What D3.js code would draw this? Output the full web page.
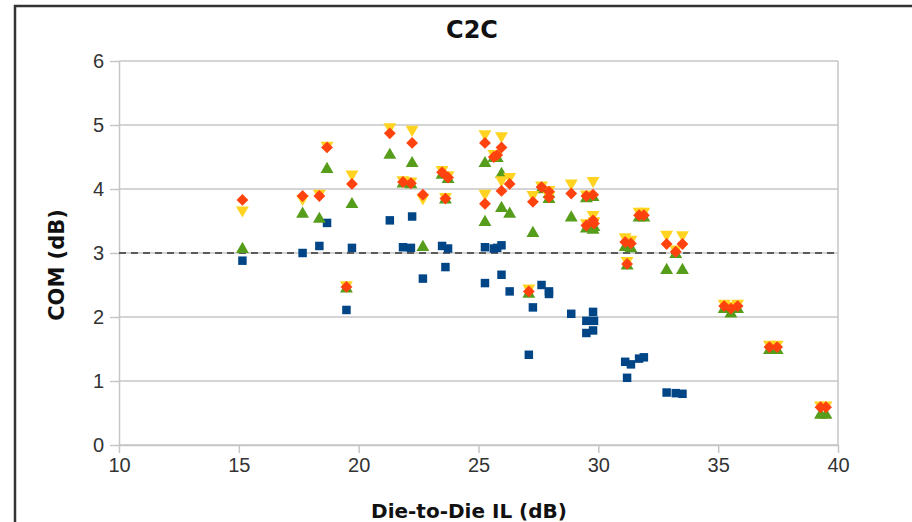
<!DOCTYPE html>
<html>
<head>
<meta charset="utf-8">
<script src="https://cdn.jsdelivr.net/npm/d3@7"></script>
<style>
  body { margin: 0; background: #fff; }
  svg { display: block; }
</style>
</head>
<body>
<div id="chart"></div>
<script>
'use strict';
// die-to-die insertion loss per channel (dB)
var il = [15.15, 17.66, 18.36, 18.68, 19.49, 19.72, 21.30, 22.23, 21.85, 22.18,
    22.68, 23.48, 23.62, 23.73, 25.27, 25.27, 25.64, 25.78, 25.96, 25.96,
    26.30, 27.10, 27.27, 27.63, 27.94, 27.94, 28.87, 29.50, 29.78, 29.50,
    29.78, 29.82, 31.12, 31.36, 31.20, 31.70, 31.90, 32.85, 33.23, 33.51,
    35.25, 35.53, 35.81, 37.14, 37.46, 39.27, 39.50];
// COM values, one array per case (null = not plotted)
var comBlue = [2.88, 3.00, 3.11, 3.47, 2.11, 3.08, 3.51, 3.57, 3.09, 3.08,
    2.60, 3.11, 2.78, 3.07, 3.09, 2.53, 3.07, 3.08, 3.12, 2.66,
    2.40, 1.41, 2.15, 2.50, 2.40, 2.36, 2.05, 1.94, 2.08, 1.75,
    1.79, 1.94, 1.30, 1.26, 1.05, 1.35, 1.37, 0.82, 0.81, 0.80,
    null, null, null, null, null, null, null];
var comOrange = [3.83, 3.89, 3.89, 4.65, 2.47, 4.08, 4.87, 4.72, 4.11, 4.09,
    3.91, 4.26, 3.85, 4.18, 4.72, 3.77, 4.50, 4.53, 4.65, 3.97,
    4.08, 2.40, 3.80, 4.03, 3.96, 3.87, 3.93, 3.89, 3.91, 3.43,
    3.51, 3.46, 3.17, 3.15, 2.83, 3.59, 3.59, 3.14, 3.02, 3.14,
    2.17, 2.13, 2.17, 1.53, 1.53, 0.59, 0.59];
var comYellow = [3.67, 3.85, 3.93, 4.68, 2.50, 4.23, 4.97, 4.93, 4.14, 4.12,
    3.86, 4.30, 3.88, 4.22, 4.86, 3.93, 4.55, 4.55, 4.83, 4.14,
    4.19, 2.45, 3.91, 4.06, 3.99, 3.90, 4.09, 3.92, 4.13, 3.47,
    3.60, 3.50, 3.25, 3.21, 2.88, 3.65, 3.65, 3.29, 3.06, 3.28,
    2.21, 2.18, 2.21, 1.57, 1.57, 0.62, 0.62];
var comGreen = [3.06, 3.61, 3.53, 4.31, 2.44, 3.76, 4.53, 4.40, 4.08, 4.07,
    3.09, 4.22, 3.83, 4.15, 4.40, 3.48, 4.48, 4.48, 4.23, 3.70,
    3.61, 2.36, 3.31, 3.99, 3.92, 3.84, 3.55, 3.85, 3.87, 3.38,
    3.36, 3.40, 3.09, 3.07, 2.80, 3.55, 3.55, 2.73, 2.98, 2.73,
    2.12, 2.05, 2.12, 1.48, 1.48, 0.47, 0.47];
var xTicks = [10, 15, 20, 25, 30, 35, 40];
var yTicks = [0, 1, 2, 3, 4, 5, 6];
var comLimit = 3;

var series = [
    {name: "blue", values: comBlue, color: "#004586", symbol: d3.symbolSquare, size: 72, rotate: 0},
    {name: "green", values: comGreen, color: "#579d1c", symbol: d3.symbolTriangle, size: 72, rotate: 0},
    {name: "yellow", values: comYellow, color: "#ffd320", symbol: d3.symbolTriangle, size: 72, rotate: 180},
    {name: "orange", values: comOrange, color: "#ff420e", symbol: d3.symbolSquare, size: 70, rotate: 45}
];

var W = 912, H = 522;
var margin = {top: 61, right: 74, bottom: 77, left: 119};
var width = W - margin.left - margin.right,
    height = H - margin.top - margin.bottom;

var svg = d3.select("#chart").append("svg")
    .attr("width", W)
    .attr("height", H);

// outer frame (cut by the picture edges)
svg.append("rect")
    .attr("x", 15).attr("y", 6)
    .attr("width", 1000).attr("height", 1000)
    .attr("fill", "none")
    .attr("stroke", "#333")
    .attr("stroke-width", 2.5);

var g = svg.append("g")
    .attr("transform", "translate(" + margin.left + "," + margin.top + ")");

var x = d3.scaleLinear().domain([10, 40]).range([0, width]);
var y = d3.scaleLinear().domain([0, 6]).range([height, 0]);

// horizontal gridlines
g.selectAll(".grid")
    .data(yTicks)
    .enter().append("line")
    .attr("x1", 0).attr("x2", width)
    .attr("y1", function (d) { return y(d); })
    .attr("y2", function (d) { return y(d); })
    .attr("stroke", "#c6c6c6")
    .attr("stroke-width", 1.5);

// right border
g.append("line")
    .attr("x1", width).attr("x2", width)
    .attr("y1", 0).attr("y2", height)
    .attr("stroke", "#c6c6c6")
    .attr("stroke-width", 1.5);

// axes
var xAxis = g.append("g")
    .attr("transform", "translate(0," + height + ")")
    .call(d3.axisBottom(x).tickValues(xTicks).tickFormat(d3.format("d"))
        .tickSize(8).tickPadding(5).tickSizeOuter(0));
var yAxis = g.append("g")
    .call(d3.axisLeft(y).tickValues(yTicks).tickFormat(d3.format("d"))
        .tickSize(9).tickPadding(6).tickSizeOuter(0));

[xAxis, yAxis].forEach(function (ax) {
    ax.select(".domain").attr("stroke", "#c6c6c6").attr("stroke-width", 1.5);
    ax.selectAll(".tick line").attr("stroke", "#c6c6c6").attr("stroke-width", 1.5);
    ax.selectAll(".tick text")
        .attr("fill", "#333")
        .style("font-family", "'Liberation Sans', Arial, sans-serif")
        .style("font-size", "20px");
});

// COM limit
g.append("line")
    .attr("x1", x(10)).attr("x2", x(40))
    .attr("y1", y(comLimit)).attr("y2", y(comLimit))
    .attr("stroke", "#333")
    .attr("stroke-width", 1.6)
    .attr("stroke-dasharray", "7,5");

// markers
series.forEach(function (s) {
    var pts = il.map(function (v, i) { return {x: v, y: s.values[i]}; })
        .filter(function (d) { return d.y !== null; });
    g.append("g").selectAll("path")
        .data(pts)
        .enter().append("path")
        .attr("d", d3.symbol().type(s.symbol).size(s.size))
        .attr("transform", function (d) {
            return "translate(" + x(d.x) + "," + y(d.y) + ") rotate(" + s.rotate + ")";
        })
        .attr("fill", s.color);
});

// titles
svg.append("text")
    .attr("x", 472).attr("y", 38)
    .attr("text-anchor", "middle")
    .style("font-family", "'DejaVu Sans', sans-serif")
    .style("font-weight", "bold")
    .style("font-size", "24px")
    .attr("fill", "#111")
    .text("C2C");

svg.append("text")
    .attr("x", 469).attr("y", 518)
    .attr("text-anchor", "middle")
    .style("font-family", "'DejaVu Sans', sans-serif")
    .style("font-weight", "bold")
    .style("font-size", "20px")
    .attr("fill", "#111")
    .text("Die-to-Die IL (dB)");

svg.append("text")
    .attr("transform", "translate(64,265) rotate(-90)")
    .attr("text-anchor", "middle")
    .style("font-family", "'DejaVu Sans', sans-serif")
    .style("font-weight", "bold")
    .style("font-size", "21px")
    .attr("fill", "#111")
    .text("COM (dB)");
</script>
</body>
</html>
